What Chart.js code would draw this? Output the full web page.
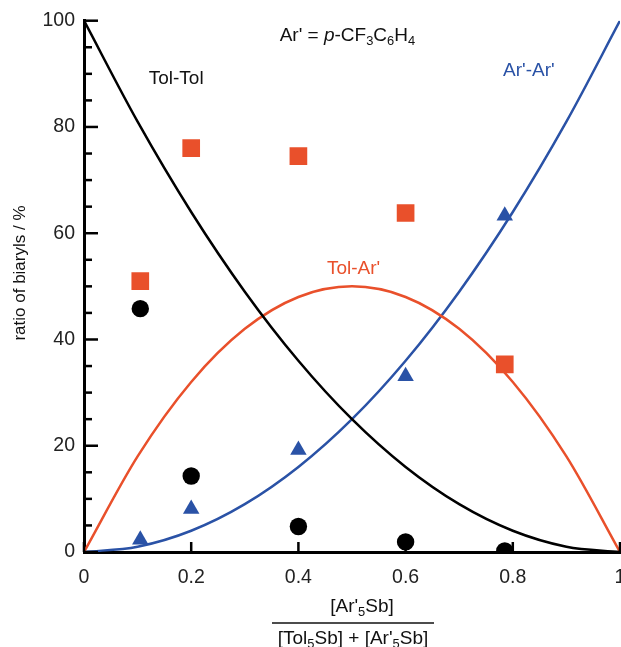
<!DOCTYPE html>
<html>
<head>
<meta charset="utf-8">
<script src="https://cdn.jsdelivr.net/npm/chart.js@4.4.1/dist/chart.umd.min.js"></script>
<style>
body{margin:0;background:#fff;overflow:hidden;}
#wrap{width:640px;height:647px;}
</style>
</head>
<body>
<div id="wrap"><canvas id="grafica" width="640" height="647"></canvas></div>
<script>
// datos
const curvaX=[0,0.1,0.2,0.3,0.4,0.5,0.6,0.7,0.8,0.9,1];
const tolTol=[100,81,64,49,36,25,16,9,4,1,0];
const arAr=[0,1,4,9,16,25,36,49,64,81,100];
const tolAr=[0,18,32,42,48,50,48,42,32,18,0];

const puntosX=[0.105,0.2,0.4,0.6,0.785];
const cuadros=[51,76,74.5,63.8,35.3];
const circulos=[45.8,14.3,4.8,1.9,0.2];
const triangulos=[2.3,8.1,19.2,33.1,63.3];

const xTicks=[0,0.2,0.4,0.6,0.8,1];

const NEGRO='#000';
const NARANJA='#E9502B';
const AZUL='#2A52A6';
const FUENTE='"Liberation Sans", Arial, Helvetica, sans-serif';

function pares(xs,ys){
    return xs.map((x,i)=>({x:x,y:ys[i]}));
}

// texto con subindices
function textoRico(ctx,partes,x,y,tam,color,alinear){
    let ancho=0;
    partes.forEach(p=>{
        ctx.font=(p.it?'italic ':'')+(p.sub?tam*0.68:tam)+'px '+FUENTE;
        p.w=ctx.measureText(p.t).width;
        ancho+=p.w;
    });
    let cx=alinear==='center'?x-ancho/2:x;
    ctx.fillStyle=color;
    ctx.textBaseline='middle';
    ctx.textAlign='left';
    partes.forEach(p=>{
        ctx.font=(p.it?'italic ':'')+(p.sub?tam*0.68:tam)+'px '+FUENTE;
        ctx.fillText(p.t,cx,p.sub?y+tam*0.3:y);
        cx+=p.w;
    });
}

const extras={
    id:'extras',
    afterDraw(chart){
        const ctx=chart.ctx;
        const xs=chart.scales.x, ys=chart.scales.y;
        const izq=chart.chartArea.left, abajo=chart.chartArea.bottom;
        ctx.save();
        ctx.strokeStyle=NEGRO;
        ctx.lineWidth=2.5;
        // marcas eje y
        for(let v=0;v<=100;v+=5){
            const py=ys.getPixelForValue(v);
            const l=v%20===0?14:8;
            ctx.beginPath();ctx.moveTo(izq,py);ctx.lineTo(izq+l,py);ctx.stroke();
        }
        // marcas eje x
        xTicks.forEach(v=>{
            const px=xs.getPixelForValue(v);
            ctx.beginPath();ctx.moveTo(px,abajo);ctx.lineTo(px,abajo-10);ctx.stroke();
        });

        // etiquetas
        ctx.font='19px '+FUENTE;
        ctx.textAlign='center';ctx.textBaseline='middle';
        ctx.fillStyle='#111';
        ctx.fillText('Tol-Tol',xs.getPixelForValue(0.172),ys.getPixelForValue(89));
        ctx.fillStyle=AZUL;
        ctx.fillText("Ar'-Ar'",xs.getPixelForValue(0.83),ys.getPixelForValue(90.6));
        ctx.fillStyle=NARANJA;
        ctx.fillText("Tol-Ar'",xs.getPixelForValue(0.503),ys.getPixelForValue(53.3));

        textoRico(ctx,[{t:"Ar' = "},{t:'p',it:true},{t:'-CF'},{t:'3',sub:true},{t:'C'},{t:'6',sub:true},{t:'H'},{t:'4',sub:true}],
            xs.getPixelForValue(0.365),ys.getPixelForValue(97.2),19,'#111','left');

        // titulo eje x (fraccion)
        textoRico(ctx,[{t:"[Ar'"},{t:'5',sub:true},{t:'Sb]'}],362,607,19,'#111','center');
        ctx.lineWidth=1.5;
        ctx.strokeStyle='#111';
        ctx.beginPath();ctx.moveTo(272,623);ctx.lineTo(434,623);ctx.stroke();
        textoRico(ctx,[{t:'[Tol'},{t:'5',sub:true},{t:"Sb] + [Ar'"},{t:'5',sub:true},{t:'Sb]'}],353,639,19,'#111','center');

        // titulo eje y
        ctx.translate(20,273);
        ctx.rotate(-Math.PI/2);
        ctx.font='17px '+FUENTE;
        ctx.fillStyle='#111';
        ctx.textAlign='center';ctx.textBaseline='middle';
        ctx.fillText('ratio of biaryls / %',0,0);
        ctx.restore();
    }
};

window.onload=function(){
    const ctx=document.getElementById('grafica');
    new Chart(ctx,{
        type:'scatter',
        data:{
            datasets:[
                {data:pares(puntosX,cuadros),pointStyle:'rect',pointRadius:12.5,backgroundColor:NARANJA,borderWidth:0,order:0},
                {data:pares(puntosX,circulos),pointStyle:'circle',pointRadius:8.7,backgroundColor:NEGRO,borderWidth:0,order:0},
                {data:pares(puntosX,triangulos),pointStyle:'triangle',pointRadius:9.5,backgroundColor:AZUL,borderWidth:0,order:0},
                {type:'line',data:pares(curvaX,tolTol),borderColor:NEGRO,borderWidth:2.5,pointRadius:0,cubicInterpolationMode:'monotone',fill:false,order:1},
                {type:'line',data:pares(curvaX,tolAr),borderColor:NARANJA,borderWidth:2.5,pointRadius:0,cubicInterpolationMode:'monotone',fill:false,order:1},
                {type:'line',data:pares(curvaX,arAr),borderColor:AZUL,borderWidth:2.5,pointRadius:0,cubicInterpolationMode:'monotone',fill:false,order:1}
            ]
        },
        options:{
            responsive:false,
            animation:false,
            layout:{padding:{left:0,right:20,top:18,bottom:0}},
            plugins:{legend:{display:false},tooltip:{enabled:false}},
            scales:{
                x:{
                    type:'linear',min:0,max:1,
                    grid:{display:false,drawTicks:false},
                    border:{display:true,width:3,color:NEGRO},
                    afterBuildTicks:s=>{s.ticks=xTicks.map(v=>({value:v}));},
                    ticks:{
                        padding:14,color:'#222',
                        font:{family:FUENTE,size:19.5},
                        callback:v=>String(Math.round(v*10)/10)
                    },
                    afterFit:s=>{s.height=95;}
                },
                y:{
                    min:0,max:100,
                    grid:{display:false,drawTicks:false},
                    border:{display:true,width:3,color:NEGRO},
                    ticks:{stepSize:20,padding:9,color:'#222',font:{family:FUENTE,size:19.5}},
                    afterFit:s=>{s.width=84;}
                }
            }
        },
        plugins:[extras]
    });
};
</script>
</body>
</html>
